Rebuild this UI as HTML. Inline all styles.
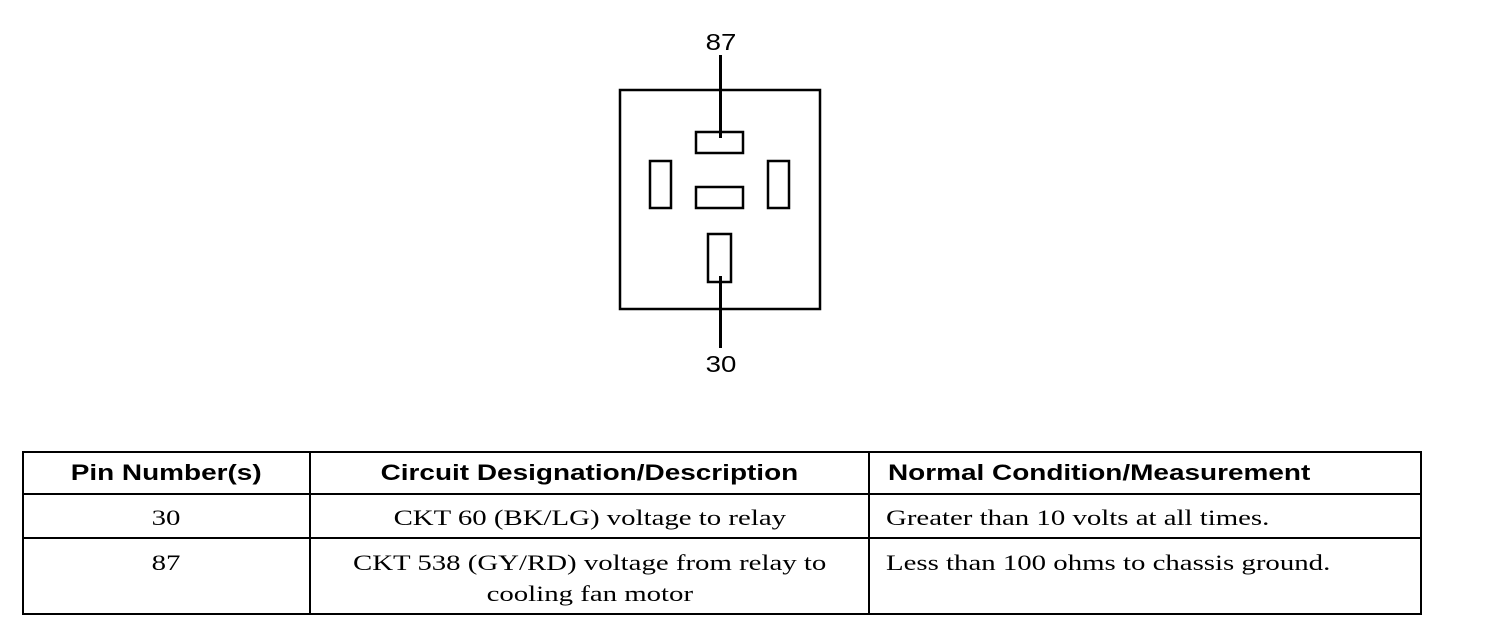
<!DOCTYPE html>
<html><head><style>
body{margin:0;width:1504px;height:642px;background:#fff;position:relative;overflow:hidden}
.a{position:absolute}
.h{font:bold 22px "Liberation Sans",sans-serif;position:absolute}
.t{font:22px "Liberation Serif",serif;position:absolute;line-height:31px}
.b{position:absolute;background:#000}
.hs{display:inline-block;transform:scaleX(1.27);transform-origin:center}
.hl{display:inline-block;transform:scaleX(1.27);transform-origin:left}
.ts{display:inline-block;transform:scaleX(1.31);transform-origin:center}
.tl{display:inline-block;transform:scaleX(1.31);transform-origin:left}
</style></head><body>
<svg class="a" style="left:0;top:0" width="1504" height="420">
<g fill="none" stroke="#000" stroke-width="2.5">
<rect x="620" y="90" width="200" height="219"/>
<rect x="696" y="132" width="47" height="21"/>
<rect x="650" y="161" width="21" height="47"/>
<rect x="696" y="187" width="47" height="21"/>
<rect x="768" y="161" width="21" height="47"/>
<rect x="708" y="234" width="23" height="48"/>
</g>
<line x1="720.5" y1="55" x2="720.5" y2="138" stroke="#000" stroke-width="3"/>
<line x1="720.5" y1="276" x2="720.5" y2="348" stroke="#000" stroke-width="3"/>
<text x="721" y="50" text-anchor="middle" font-family="Liberation Sans,sans-serif" font-size="23" transform="translate(721 0) scale(1.2 1) translate(-721 0)">87</text>
<text x="721" y="372" text-anchor="middle" font-family="Liberation Sans,sans-serif" font-size="23" transform="translate(721 0) scale(1.2 1) translate(-721 0)">30</text>
</svg>
<div class="a" style="left:22px;top:451px;width:1396px;height:160px;border:2px solid #000"></div>
<div class="b" style="left:22px;top:493px;width:1400px;height:2px"></div>
<div class="b" style="left:22px;top:537px;width:1400px;height:2px"></div>
<div class="b" style="left:309px;top:451px;width:2px;height:164px"></div>
<div class="b" style="left:868px;top:451px;width:2px;height:164px"></div>
<div class="h" style="left:22px;width:288px;text-align:center;top:460px"><span class="hs">Pin Number(s)</span></div>
<div class="h" style="left:310px;width:559px;text-align:center;top:460px"><span class="hs">Circuit Designation/Description</span></div>
<div class="h" style="left:888px;top:460px"><span class="hl">Normal Condition/Measurement</span></div>
<div class="t" style="left:22px;width:288px;text-align:center;top:502px"><span class="ts">30</span></div>
<div class="t" style="left:310px;width:559px;text-align:center;top:502px"><span class="ts">CKT 60 (BK/LG) voltage to relay</span></div>
<div class="t" style="left:886px;top:502px"><span class="tl">Greater than 10 volts at all times.</span></div>
<div class="t" style="left:22px;width:288px;text-align:center;top:547px"><span class="ts">87</span></div>
<div class="t" style="left:310px;width:559px;text-align:center;top:547px"><span class="ts">CKT 538 (GY/RD) voltage from relay to</span><br><span class="ts">cooling fan motor</span></div>
<div class="t" style="left:886px;top:547px"><span class="tl">Less than 100 ohms to chassis ground.</span></div>
</body></html>
